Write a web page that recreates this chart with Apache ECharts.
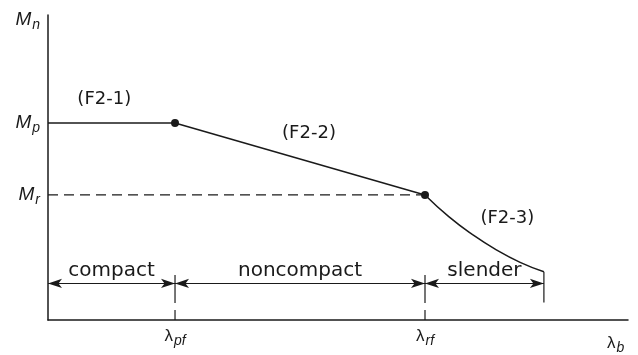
<!DOCTYPE html>
<html>
<head>
<meta charset="utf-8">
<script src="https://cdn.jsdelivr.net/npm/echarts@6/dist/echarts.min.js"></script>
<style>
  html, body { margin: 0; padding: 0; background: #fff; }
  #chart { width: 638px; height: 355px; }
</style>
</head>
<body>
<div id="chart"></div>
<script>
// data (x: slenderness, y: moment, both on a 0..100 schematic scale)
const breakX = [21.9, 65.0];          // lambda_pf, lambda_rf
const breakSubs = ['pf', 'rf'];
const endX = 85.5;
const momentY = [64.6, 41.0];         // Mp, Mr
const momentSubs = ['p', 'r'];
const plateau = [[0, 64.6], [21.9, 64.6]];
const inelastic = [[21.9, 64.6], [65.0, 41.0]];
const elastic = [[65.0, 41.0], [69.1, 33.9], [73.2, 28.0], [77.3, 23.0], [81.4, 18.9], [85.5, 15.8]];
const zoneNames = ['compact', 'noncompact', 'slender'];
const zoneEdges = [0, 21.9, 65.0, 85.5];
const formulaNames = ['(F2-1)', '(F2-2)', '(F2-3)'];
const formulaAt = [[9.7, 72.5], [45.0, 61.3], [79.2, 33.4]];

const ink = '#1a1a1a';
const font = 'Liberation Sans, Arial, sans-serif';
const wideFont = 'DejaVu Sans, sans-serif';
const arrowY = 12.0;

const chart = echarts.init(document.getElementById('chart'));

const subRich = {
  m: { fontFamily: font, fontStyle: 'italic', fontSize: 19, color: ink },
  s: { fontFamily: font, fontStyle: 'italic', fontSize: 14, color: ink, padding: [10, 0, 0, 1] },
  l: { fontFamily: font, fontSize: 17, color: ink },
};

function seg(points, extra) {
  return Object.assign({
    type: 'line',
    data: points,
    symbol: 'none',
    silent: true,
    lineStyle: { color: ink, width: 1.5 },
  }, extra || {});
}

const series = [];
series.push(seg(plateau));
series.push(seg(inelastic));
series.push(seg(elastic, { smooth: true }));
// dashed Mr level
series.push(seg([[0, momentY[1]], [breakX[1], momentY[1]]], {
  lineStyle: { color: ink, width: 1.2, type: [10, 6] },
}));
// vertical markers at the limits
breakX.forEach(x => {
  series.push(seg([[x, 14.75], [x, 5.6]], { lineStyle: { color: ink, width: 1.2 } }));
  series.push(seg([[x, 3.3], [x, 0]], { lineStyle: { color: ink, width: 1.2 } }));
});
series.push(seg([[endX, 15.8], [endX, 5.7]], { lineStyle: { color: ink, width: 1.2 } }));

// dimension arrows
series.push({
  type: 'line',
  data: [],
  silent: true,
  markLine: {
    silent: true,
    symbol: ['arrow', 'arrow'],
    symbolSize: [7, 14],
    lineStyle: { color: ink, width: 1.2, type: 'solid' },
    label: { show: false },
    data: zoneNames.map((n, i) => [
      { coord: [zoneEdges[i], arrowY] },
      { coord: [zoneEdges[i + 1], arrowY] },
    ]),
  },
});

// zone names
series.push({
  type: 'scatter',
  symbolSize: 0,
  silent: true,
  itemStyle: { opacity: 1 },
  data: zoneNames.map((n, i) => ({ value: [(zoneEdges[i] + zoneEdges[i + 1]) / 2, 16.1], name: n })),
  label: {
    show: true, position: 'inside', formatter: p => p.name,
    fontFamily: wideFont, fontSize: 20, color: ink,
  },
});

// equation tags
series.push({
  type: 'scatter',
  symbolSize: 0,
  silent: true,
  itemStyle: { opacity: 1 },
  data: formulaNames.map((n, i) => ({ value: formulaAt[i], name: n })),
  label: {
    show: true, position: 'inside', formatter: p => p.name,
    fontFamily: wideFont, fontSize: 18, color: ink,
  },
});

// break points
series.push({
  type: 'scatter',
  symbolSize: 8,
  silent: true,
  itemStyle: { color: ink, opacity: 1 },
  data: [[breakX[0], momentY[0]], [breakX[1], momentY[1]]],
});

const option = {
  animation: false,
  backgroundColor: '#fff',
  grid: { left: 48, right: 10, top: 15, bottom: 35, outerBoundsMode: 'none' },
  xAxis: {
    type: 'value',
    min: 0,
    max: 100,
    name: '{l|λ}{s|b}',
    nameLocation: 'end',
    nameGap: -21,
    nameTextStyle: { align: 'left', verticalAlign: 'top', padding: [11, 0, 0, 0], rich: subRich },
    axisLine: { show: true, onZero: false, lineStyle: { color: ink, width: 1.5 } },
    axisTick: { show: false },
    splitLine: { show: false },
    axisLabel: {
      customValues: breakX,
      margin: 4,
      formatter: v => {
        const i = breakX.indexOf(v);
        return i < 0 ? '' : '{l|λ}{s|' + breakSubs[i] + '}';
      },
      rich: subRich,
    },
  },
  yAxis: {
    type: 'value',
    min: 0,
    max: 100,
    name: '{m|M}{s|n}',
    nameLocation: 'end',
    nameGap: -5,
    nameTextStyle: { align: 'right', verticalAlign: 'middle', padding: [0, 8, 0, 0], rich: subRich },
    axisLine: { show: true, onZero: false, lineStyle: { color: ink, width: 1.5 } },
    axisTick: { show: false },
    splitLine: { show: false },
    axisLabel: {
      customValues: momentY,
      margin: 8,
      formatter: v => {
        const i = momentY.indexOf(v);
        return i < 0 ? '' : '{m|M}{s|' + momentSubs[i] + '}';
      },
      rich: subRich,
    },
  },
  series: series,
};

chart.setOption(option);
</script>
</body>
</html>
